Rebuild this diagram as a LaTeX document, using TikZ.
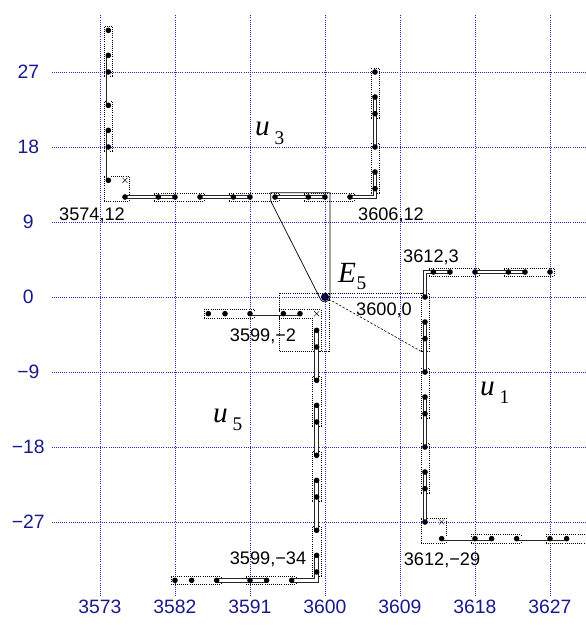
\documentclass[tikz,border=0pt]{standalone}
\usepackage{fontspec}
\setsansfont{Liberation Sans}
\newfontfamily\lserif{Liberation Serif}
\usepackage{tikz}
\usetikzlibrary{
	arrows.meta,
	positioning,
	calc
}
\usepackage{xcolor}
\definecolor{gridblue}{RGB}{40,40,195}
\definecolor{ticknavy}{RGB}{25,25,140}
\definecolor{evnavy}{RGB}{10,10,70}

\begin{document}
\begin{tikzpicture}[x=0.25cm,y=0.25cm,
	gridline/.style={gridblue, line width=0.65pt, dash pattern=on 0.8pt off 1pt},
	ticklab/.style={font=\sffamily\fontsize{16.5}{18}\selectfont, text=ticknavy, inner sep=0pt},
	ptlab/.style={font=\sffamily\fontsize{15.5}{17}\selectfont, inner sep=0pt},
	ulab/.style={font=\lserif\itshape\fontsize{25}{28}\selectfont, anchor=base west, inner sep=0pt},
	zone/.style={black, line width=0.55pt, dash pattern=on 0.8pt off 1pt},
	body/.style={black!85, line width=0.8pt, double=white, double distance=2.1pt},
	]
	
	\useasboundingbox (-39,-39.72) rectangle (31.32,35.64);
	
	% grid and ticks
	\foreach \gx in {-27,-18,...,27}
	\draw[gridline] (\gx,-35.9) -- (\gx,33.8);
	\foreach \gy in {-27,-18,...,27}
	\draw[gridline] (-32.8,\gy) -- (31.32,\gy);
	\foreach \gx/\txt in {-27/3573,-18/3582,-9/3591,0/3600,9/3609,18/3618,27/3627}
	\node[ticklab] (xt\txt) at (\gx,-37.2) {\txt};
	\foreach \gy/\txt in {27/27,18/18,9/9,0/0,-9/{−9},-18/{−18},-27/{−27}}
	\node[ticklab] (yt\gy) at (-35.6,\gy) {\txt};
	
	% zones
	\draw[zone] (-26.5,26.5) rectangle (-25.5,32.5);
	\draw[zone] (-26.5,17.5) rectangle (-25.5,23.5);
	\draw[zone] (-26.5,11.5) rectangle (-23.5,14.5);
	\draw[zone] (-20.5,11.5) rectangle (-14.5,12.5);
	\draw[zone] (-11.5,11.5) rectangle (-5.5,12.5);
	\draw[zone] (-2.5,11.5) rectangle (3.5,12.5);
	\draw[zone] (5.5,12.5) rectangle (6.5,18.5);
	\draw[zone] (5.5,21.5) rectangle (6.5,27.5);
	
	\draw[zone] (21.5,2.5) rectangle (27.5,3.5);
	\draw[zone] (12.5,2.5) rectangle (18.5,3.5);
	\draw[zone] (11.5,-6.5) rectangle (12.5,0.5);
	\draw[zone] (11.5,-14.5) rectangle (12.5,-8.5);
	\draw[zone] (11.5,-23.5) rectangle (12.5,-17.5);
	\draw[zone] (11.5,-29.5) rectangle (14.5,-26.5);
	\draw[zone] (17.5,-29.5) rectangle (23.5,-28.5);
	\draw[zone] (26.5,-29.5) rectangle (32.5,-28.5);
	
	\draw[zone] (-14.5,-2.5) rectangle (-8.5,-1.5);
	\draw[zone] (-5.5,-1.5) -- (-0.5,-1.5) -- (-0.5,-6.5) -- (-1.5,-6.5) -- (-1.5,-2.5) -- (-5.5,-2.5) -- cycle;
	\draw[zone] (-1.5,-15.5) rectangle (-0.5,-9.5);
	\draw[zone] (-1.5,-24.5) rectangle (-0.5,-18.5);
	\draw[zone] (-1.5,-33.5) rectangle (-0.5,-27.5);
	\draw[zone] (-9.5,-34.5) rectangle (-3.5,-33.5);
	\draw[zone] (-18.5,-34.5) rectangle (-12.5,-33.5);
	
	\draw[zone] (-5.5,-6.5) rectangle (0.5,0.5);
	\draw[zone] (0.5,0.5) -- (11.5,0.5);
	
	% corner marks
	\foreach \cx/\cy in {-24/14,14/-27,-1/-2}
	\draw[line width=0.4pt] (\cx,\cy) ++(-0.3,-0.3) -- ++(0.6,0.6) ++(0,-0.6) -- ++(-0.6,0.6);
	
	% u3
	\draw[body] (-26,29) -- (-26,27);
	\draw[body] (-26,27) -- (-26,23);
	\draw[body] (-26,20) -- (-26,18);
	\draw[body] (-26,18) -- (-26,14);
	\draw[body] (-24,12) -- (-20,12);
	\draw[body] (-20,12) -- (-18,12);
	\draw[body] (-15,12) -- (-11,12);
	\draw[body] (-11,12) -- (-9,12);
	\draw[body] (-6,12) -- (-2,12);
	\draw[body] (-2,12) -- (0,12);
	\draw[body] (3,12) -- (6,12) -- (6,13);
	\draw[body] (6,13) -- (6,15);
	\draw[body] (6,18) -- (6,22);
	\draw[body] (6,22) -- (6,24);
	
	% u1
	\draw[body] (24,3) -- (22,3);
	\draw[body] (22,3) -- (18,3);
	\draw[body] (15,3) -- (13,3);
	\draw[body] (13,3) -- (12,3) -- (12,0);
	\draw[body] (12,-3) -- (12,-5);
	\draw[body] (12,-5) -- (12,-9);
	\draw[body] (12,-12) -- (12,-14);
	\draw[body] (12,-14) -- (12,-18);
	\draw[body] (12,-21) -- (12,-23);
	\draw[body] (12,-23) -- (12,-27);
	\draw[body] (14,-29) -- (18,-29);
	\draw[body] (18,-29) -- (20,-29);
	\draw[body] (23,-29) -- (27,-29);
	\draw[body] (27,-29) -- (29,-29);
	
	% u5
	\draw[body] (-9,-2) -- (-5,-2);
	\draw[body] (-5,-2) -- (-3,-2);
	\draw[body] (-1,-4) -- (-1,-6);
	\draw[body] (-1,-6) -- (-1,-10);
	\draw[body] (-1,-13) -- (-1,-15);
	\draw[body] (-1,-15) -- (-1,-19);
	\draw[body] (-1,-22) -- (-1,-24);
	\draw[body] (-1,-24) -- (-1,-28);
	\draw[body] (-1,-31) -- (-1,-33);
	\draw[body] (-1,-33) -- (-1,-34) -- (-4,-34);
	\draw[body] (-7,-34) -- (-9,-34);
	\draw[body] (-9,-34) -- (-13,-34);
	
	% dots
	\foreach \px/\py in {-26/32,-26/29,-26/27,-26/23,-26/20,-26/18,-26/14,
		-24/12,-20/12,-18/12,-15/12,-11/12,-9/12,-6/12,-2/12,0/12,3/12,
		6/13,6/15,6/18,6/22,6/24,6/27}
	\fill (\px,\py) circle[radius=2.4pt];
	\foreach \px/\py in {27/3,24/3,22/3,18/3,15/3,13/3,
		12/0,12/-3,12/-5,12/-9,12/-12,12/-14,12/-18,12/-21,12/-23,12/-27,
		14/-29,18/-29,20/-29,23/-29,27/-29,29/-29}
	\fill (\px,\py) circle[radius=2.4pt];
	\foreach \px/\py in {-14/-2,-12/-2,-9/-2,-5/-2,-3/-2,
		-1/-4,-1/-6,-1/-10,-1/-13,-1/-15,-1/-19,-1/-22,-1/-24,-1/-28,-1/-31,-1/-33,
		-4/-34,-7/-34,-9/-34,-13/-34,-16/-34,-18/-34}
	\fill (\px,\py) circle[radius=2.4pt];
	
	% E5 and its links
	\node[circle, fill=evnavy, inner sep=0pt, minimum size=7pt] (E5) at (0,0) {};
	\coordinate (hlA) at (-6.5,11.5);
	\coordinate (hlB) at (0.6,12.5);
	\coordinate (u1zone) at (11.5,-6.5);
	\draw[line width=0.6pt] (hlA) -- ++(0,1) -- (hlB) -- (0.6,0)
	arc[start angle=0, end angle=-153, radius=0.6] -- cycle;
	\draw[line width=0.5pt, dash pattern=on 2pt off 1.4pt] (E5) -- (u1zone);
	
	% labels
	\node[ptlab] (l3574) at (-27.96,9.84) {3574,12};
	\node[ptlab] (l3606) at (7.92,9.84) {3606,12};
	\node[ptlab] (l3612a) at (12.72,4.8) {3612,3};
	\node[ptlab] (l3600) at (7.08,-1.56) {3600,0};
	\node[ptlab] (l3599a) at (-7.44,-4.68) {3599,−2};
	\node[ptlab] (l3599b) at (-6.84,-31.44) {3599,−34};
	\node[ptlab] (l3612b) at (14.04,-31.56) {3612,−29};
	
	\node[ulab] (lE5) at (1.56,1.8) {E\hspace{0.5pt}\raisebox{-6.8pt}{\upshape\fontsize{16.5}{18}\selectfont 5}};
	\node[ulab] (lu3) at (-8.4,19.44) {u\hspace{4pt}\raisebox{-8.5pt}{\upshape\fontsize{16.5}{18}\selectfont 3}};
	\node[ulab] (lu5) at (-13.44,-15.0) {u\hspace{4pt}\raisebox{-7pt}{\upshape\fontsize{16.5}{18}\selectfont 5}};
	\node[ulab] (lu1) at (18.6,-11.8) {u\hspace{4pt}\raisebox{-7pt}{\upshape\fontsize{16.5}{18}\selectfont 1}};
	
\end{tikzpicture}
\end{document}
